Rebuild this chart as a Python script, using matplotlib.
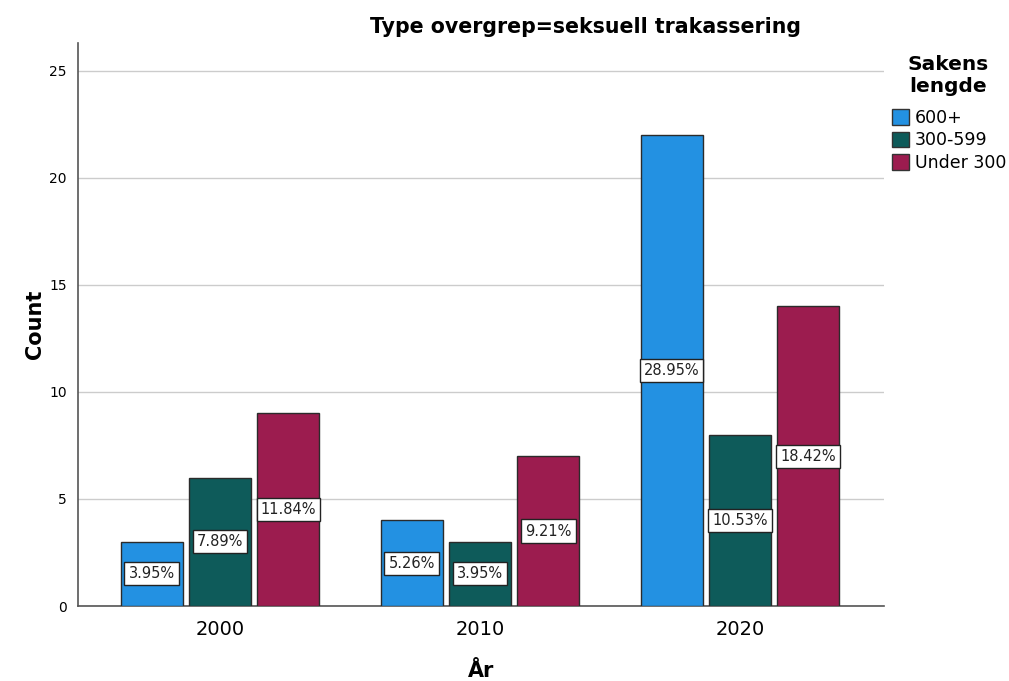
import matplotlib
matplotlib.use("Agg")
import matplotlib.pyplot as plt
import numpy as np
from matplotlib.patches import Patch

years = ["2000", "2010", "2020"]
series_names = ["600+", "300-599", "Under 300"]
counts_600 = [3, 4, 22]
counts_300 = [6, 3, 8]
counts_under = [9, 7, 14]
pct_600 = ["3.95%", "5.26%", "28.95%"]
pct_300 = ["7.89%", "3.95%", "10.53%"]
pct_under = ["11.84%", "9.21%", "18.42%"]

colors = ["#2391e2", "#0e5b5a", "#9c1c4f"]

fig = plt.figure(figsize=(10.09, 6.81), dpi=100)
ax = fig.add_axes([78/1009, 1-606/681, (884-78)/1009, (606-43)/681])

x = np.arange(len(years))
width = 0.238
offset = 0.263
series = [counts_600, counts_300, counts_under]
pcts = [pct_600, pct_300, pct_under]
for i, (vals, labs) in enumerate(zip(series, pcts)):
    xpos = x + (i - 1) * offset
    ax.bar(xpos, vals, width=width, color=colors[i], edgecolor="#2b2b2b", linewidth=1.0, zorder=3)
    for xp, v, lab in zip(xpos, vals, labs):
        ax.text(xp, v / 2, lab, ha="center", va="center", fontsize=10.5, color="#222222",
                bbox=dict(boxstyle="square,pad=0.28", facecolor="white", edgecolor="#222222", linewidth=1.0),
                zorder=5)

ax.set_xlim(-0.546, 2.554)
ax.set_ylim(0, 26.3)
ax.set_yticks([0, 5, 10, 15, 20, 25])
ax.yaxis.grid(True, color="#cccccc", linewidth=1.0, zorder=0)
ax.set_axisbelow(True)
ax.set_xticks(x)
ax.set_xticklabels(years, fontsize=14)
ax.tick_params(axis="y", length=0, labelsize=10, pad=8)
ax.tick_params(axis="x", length=0, pad=10)
for s in ["top", "right"]:
    ax.spines[s].set_visible(False)
ax.spines["left"].set_color("#555555")
ax.spines["bottom"].set_color("#555555")
ax.spines["left"].set_linewidth(1.2)
ax.spines["bottom"].set_linewidth(1.2)

ax.set_ylabel("Count", fontsize=15, fontweight="bold", labelpad=3)
ax.set_xlabel("År", fontsize=15, fontweight="bold", labelpad=16)

fig.text(585/1009, 1-27/681, "Type overgrep=seksuell trakassering", ha="center", va="center",
         fontsize=14.8, fontweight="bold")

fig.text(948/1009, 1-76/681, "Sakens\nlengde", ha="center", va="center",
         fontsize=14.5, fontweight="bold", linespacing=1.2)

handles = [Patch(facecolor=c, edgecolor="#333333", label=n) for c, n in zip(colors, series_names)]
leg = fig.legend(handles=handles, loc="upper left",
                 bbox_to_anchor=(892/1009, 1-109/681), frameon=False, fontsize=12.5,
                 handlelength=1.0, handleheight=1.0, handletextpad=0.3, labelspacing=0.25,
                 borderaxespad=0, borderpad=0)

fig.savefig("out.png", dpi=100)
